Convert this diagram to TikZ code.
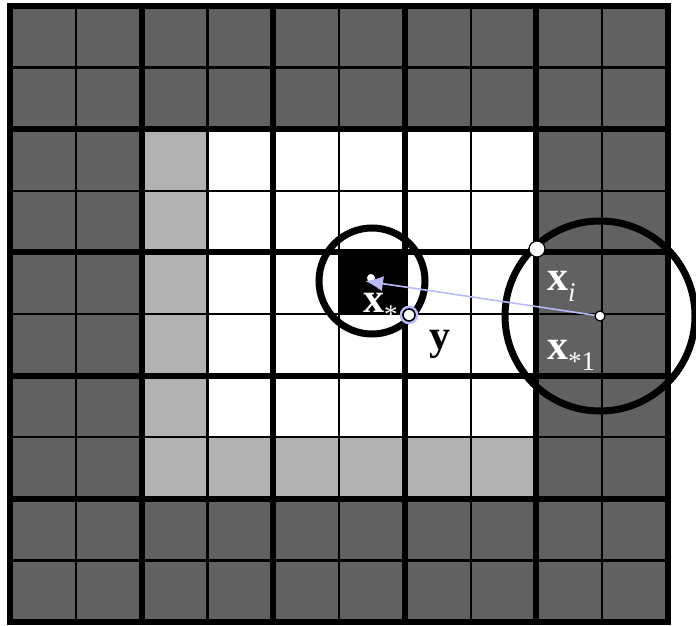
\documentclass[tikz,border=0pt]{standalone}
\usepackage{fontspec}
\setmainfont{Liberation Serif}
\usetikzlibrary{arrows.meta}
\definecolor{darkcell}{gray}{0.38}
\definecolor{lightcell}{gray}{0.70}
\definecolor{lav}{RGB}{186,186,250}
\newcommand\mysub[1]{\raisebox{-11pt}{\fontsize{27}{27}\selectfont #1}}
\tikzset{
  thinline/.style={line width=2.2pt, black},
  thickline/.style={line width=6pt, black, line cap=rect},
  ring/.style={line width=7pt, black},
  lbl/.style={inner sep=0pt, anchor=base west, text=white, font=\fontsize{42}{42}\selectfont},
  dotw/.style={circle, fill=white, draw=black, inner sep=0pt},
}
\begin{document}
\begin{tikzpicture}[x=1pt,y=-1pt]
\useasboundingbox (0,0) rectangle (696,626);
\def\cw{65.8}\def\ch{61.6}
% cells
\fill[darkcell] (10,6) rectangle (668,622);
\fill[white] ({10+2*\cw},{6+2*\ch}) rectangle ({10+8*\cw},{6+8*\ch});
\fill[lightcell] ({10+2*\cw},{6+2*\ch}) rectangle ({10+3*\cw},{6+8*\ch});
\fill[lightcell] ({10+2*\cw},{6+7*\ch}) rectangle ({10+8*\cw},{6+8*\ch});
\fill[black] ({10+5*\cw},{6+4*\ch}) rectangle ({10+6*\cw},{6+5*\ch});
% thin grid lines
\foreach \i in {1,3,5,7,9} {
  \draw[thinline] ({10+\i*\cw},6) -- ({10+\i*\cw},622);
  \draw[thinline] (10,{6+\i*\ch}) -- (668,{6+\i*\ch});
}
% thick grid lines
\foreach \i in {0,2,4,6,8,10} {
  \draw[thickline] ({10+\i*\cw},6) -- ({10+\i*\cw},622);
  \draw[thickline] (10,{6+\i*\ch}) -- (668,{6+\i*\ch});
}
% key points
\coordinate (cs) at (372,281);
\coordinate (cb) at (600,316);
\coordinate (tip) at (365,281);
\coordinate (pi) at (537,249);
\coordinate (py) at (409,315);
% circles
\draw[ring] (cs) circle (53);
\draw[ring] (cb) circle (95);
% arrow
\fill[white] (371,278) circle (4);
\draw[lav, line width=1.6pt, -{Latex[length=18pt,width=15pt]}] (cb) -- (tip);
% dots
\node[dotw, minimum size=10pt, line width=1.2pt] (dc) at (cb) {};
\node[dotw, minimum size=16pt, line width=1.2pt] (di) at (pi) {};
\node[circle, fill=white, draw=lav, line width=3.6pt, minimum size=15pt, inner sep=0pt] (dy0) at (py) {};
\node[circle, draw=black, line width=1.6pt, minimum size=12pt, inner sep=0pt] (dy) at (py) {};
% labels
\node[lbl] (xs) at (363,312) {\textbf{x}\mysub{*}};
\node[lbl] (xi) at (547,290) {\textbf{x}\mysub{\itshape i}};
\node[lbl] (xs1) at (547,359) {\textbf{x}\mysub{*1}};
\node[lbl, text=black] (yl) at (429,349) {\textbf{y}};
\end{tikzpicture}
\end{document}
